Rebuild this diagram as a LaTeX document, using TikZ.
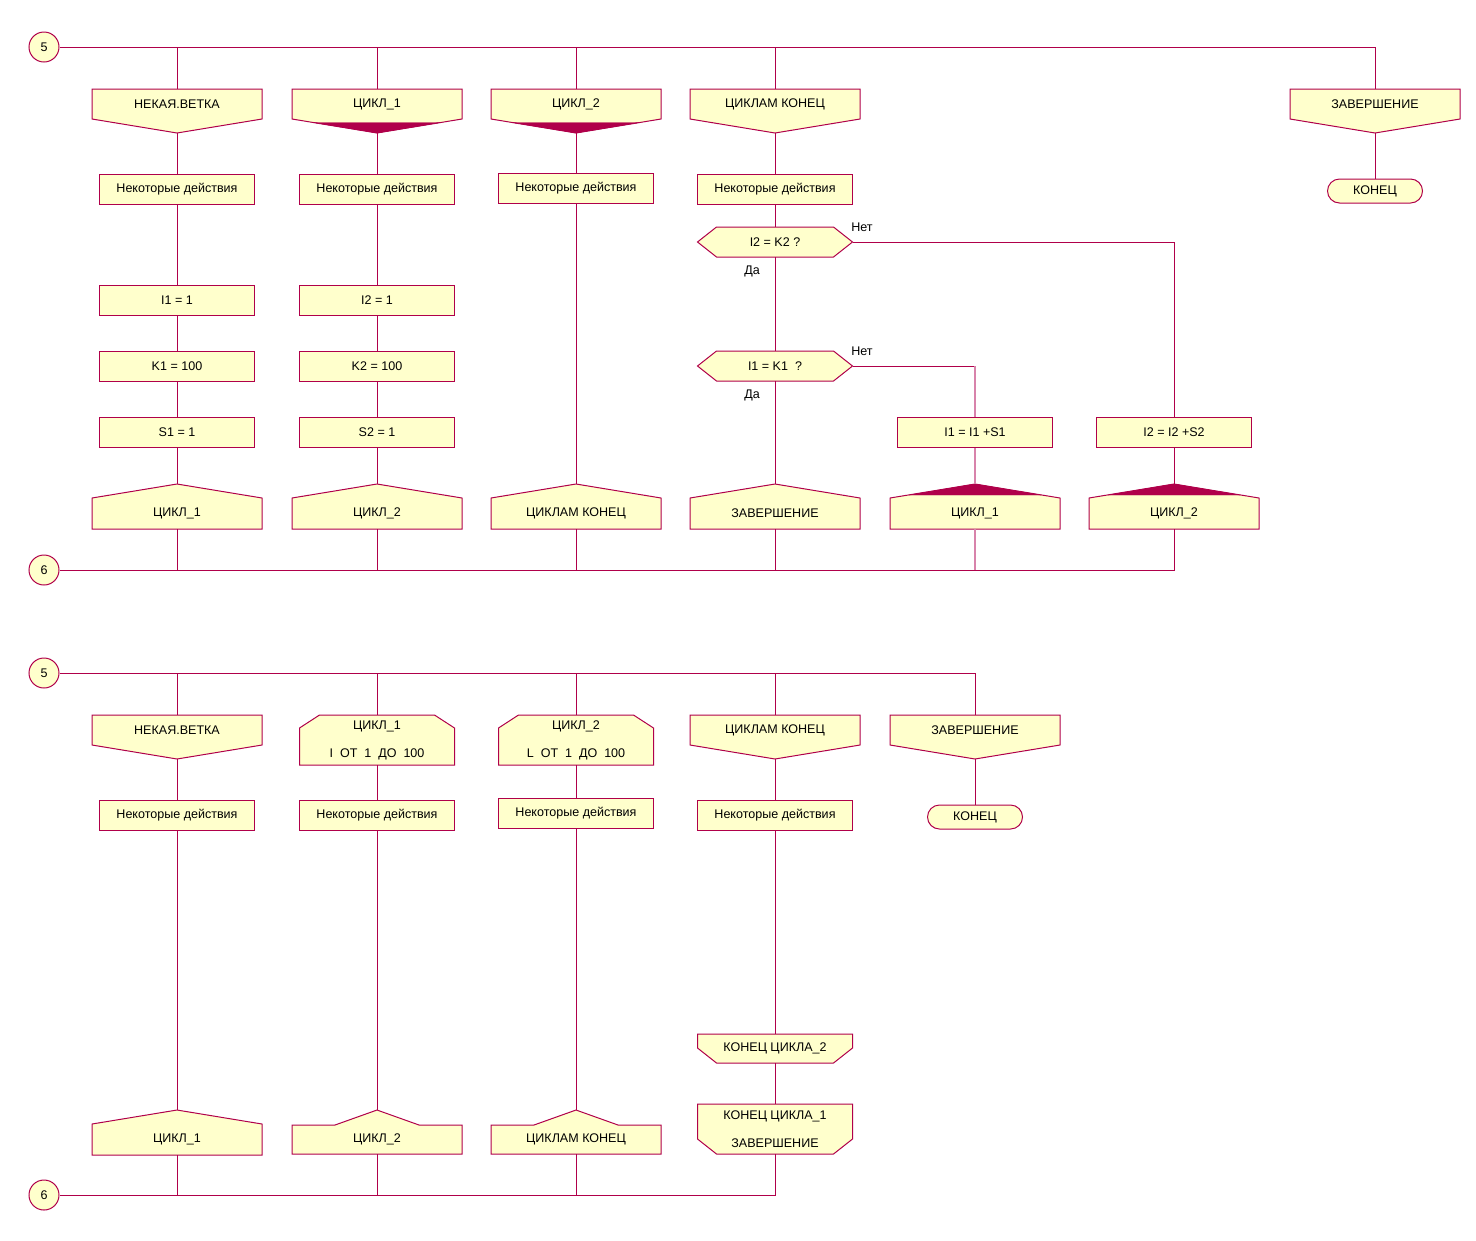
\documentclass[tikz,border=0pt]{standalone}
\usepackage{fontspec}
\setmainfont{Liberation Sans}
\usetikzlibrary{calc}
\definecolor{lnc}{HTML}{B0004A}
\definecolor{flc}{HTML}{FFFFCC}
\definecolor{lnl}{HTML}{D883AB}
\tikzset{
  shp/.style={draw=lnc, fill=flc, line width=0.75pt},
  wire/.style={draw=lnc, line width=0.75pt},
  wirel/.style={draw=lnl, line width=1.1pt},
  tri/.style={fill=lnc, draw=lnc, line width=0.3pt},
  txt/.style={inner sep=0pt, font=\fontsize{9.4}{11}\selectfont, text=black},
  part/.style={txt, minimum width=127.5pt, minimum height=22.5pt},
  box/.style={shp, txt, minimum width=116.25pt, minimum height=22.5pt},
  lbl/.style={txt},
  term/.style={shp, txt, rounded corners=9pt, minimum width=71.25pt, minimum height=18pt},
  conn/.style={shp, txt, circle, minimum size=22.5pt},
  two/.style={txt, align=center, minimum width=116.25pt, font=\fontsize{9.4}{21}\selectfont},
}
% V-bottom header (branch name)
\newcommand\VHead[4]{%
  \path[shp] (#2-85,#3) -- (#2+85,#3) -- (#2+85,#3+30) -- (#2,#3+44) -- (#2-85,#3+30) -- cycle;
  \coordinate (#1-in) at (#2,#3);
  \coordinate (#1-out) at (#2,#3+44);
  \node[part] (#1) at (#2,#3+15) {#4};
}
\newcommand\VHeadF[4]{%
  \VHead{#1}{#2}{#3}{#4}%
  \path[tri] (#2-64,#3+33.5) -- (#2,#3+44) -- (#2+64,#3+33.5) -- cycle;
}
% roof shape (branch address), wide
\newcommand\Roof[4]{%
  \path[shp] (#2,#3) -- (#2+85,#3+14) -- (#2+85,#3+45) -- (#2-85,#3+45) -- (#2-85,#3+14) -- cycle;
  \coordinate (#1-in) at (#2,#3);
  \node[part, minimum height=23.25pt] (#1) at (#2,#3+29.5) {#4};
}
\newcommand\RoofF[4]{%
  \Roof{#1}{#2}{#3}{#4}%
  \path[tri] (#2-66,#3+11) -- (#2,#3) -- (#2+66,#3+11) -- cycle;
}
% roof shape, narrow peak
\newcommand\RoofN[4]{%
  \path[shp] (#2-85,#3+15) -- (#2-42,#3+15) -- (#2,#3) -- (#2+42,#3+15) -- (#2+85,#3+15)
     -- (#2+85,#3+44) -- (#2-85,#3+44) -- cycle;
  \coordinate (#1-in) at (#2,#3);
  \node[part, minimum height=21.75pt] (#1) at (#2,#3+29.5) {#4};
}
% loop start (chamfered top corners)
\newcommand\LoopS[4]{%
  \path[shp] (#2-77.5,#3+13) -- (#2-57.5,#3) -- (#2+57.5,#3) -- (#2+77.5,#3+13)
     -- (#2+77.5,#3+50) -- (#2-77.5,#3+50) -- cycle;
  \node[two, minimum height=37.5pt] (#1) at (#2,#3+25) {#4};
}
% loop end (chamfered bottom corners)
\newcommand\LoopE[5]{%
  \path[shp] (#2-77.5,#3) -- (#2+77.5,#3) -- (#2+77.5,#3+#4-15) -- (#2+58.5,#3+#4)
     -- (#2-58.5,#3+#4) -- (#2-77.5,#3+#4-15) -- cycle;
  \node[two, minimum height=#4*0.75pt] (#1) at (#2,#3+#4/2) {#5};
}
% decision hexagon
\newcommand\Hexa[4]{%
  \path[shp] (#2-77.5,#3) -- (#2-58.5,#3-15) -- (#2+58.5,#3-15) -- (#2+77.5,#3)
     -- (#2+58.5,#3+15) -- (#2-58.5,#3+15) -- cycle;
  \node[txt, minimum width=116.25pt, minimum height=22.5pt] (#1) at (#2,#3) {#4};
}
\begin{document}
\begin{tikzpicture}[x=0.75pt, y=-0.75pt]
\useasboundingbox (0,0) rectangle (1476,1240);

% ================= upper diagram =================
\node[conn] (c5) at (44,47) {5};
\node[conn] (c6) at (44,570) {6};

\VHead{h1}{177}{89}{НЕКАЯ.ВЕТКА}
\VHeadF{h2}{377}{89}{ЦИКЛ\_1}
\VHeadF{h3}{576}{89}{ЦИКЛ\_2}
\VHead{h4}{775}{89}{ЦИКЛАМ КОНЕЦ}
\VHead{hz}{1375}{89}{ЗАВЕРШЕНИЕ}
\node[term] (tz) at (1375,191) {КОНЕЦ};

\node[box] (a1) at (177,189) {Некоторые действия};
\node[box] (a2) at (377,189) {Некоторые действия};
\node[box] (a3) at (576,188) {Некоторые действия};
\node[box] (a4) at (775,189) {Некоторые действия};

\node[box] (i1) at (177,300) {I1 = 1};
\node[box] (k1) at (177,366) {K1 = 100};
\node[box] (s1) at (177,432.5) {S1 = 1};
\node[box] (i2) at (377,300) {I2 = 1};
\node[box] (k2) at (377,366) {K2 = 100};
\node[box] (s2) at (377,432.5) {S2 = 1};

\Hexa{d2}{775}{242}{I2 = K2 ?}
\Hexa{d1}{775}{366}{I1 = K1 \ ?}
\node[lbl] (n2) at (862,227) {Нет};
\node[lbl] (y2) at (752,271) {Да};
\node[lbl] (n1) at (862,351) {Нет};
\node[lbl] (y1) at (752,395) {Да};

\node[box] (p1) at (975,432.5) {I1 = I1 +S1};
\node[box] (p2) at (1174,432.5) {I2 = I2 +S2};

\Roof{e1}{177}{484}{ЦИКЛ\_1}
\Roof{e2}{377}{484}{ЦИКЛ\_2}
\Roof{e3}{576}{484}{ЦИКЛАМ КОНЕЦ}
\Roof{e4}{775}{484}{ЗАВЕРШЕНИЕ}
\RoofF{e5}{975}{484}{ЦИКЛ\_1}
\RoofF{e6}{1174}{484}{ЦИКЛ\_2}

\draw[wire] (c5.east) -- (c5.east -| hz-in) -- (hz-in);
\foreach \n in {h1,h2,h3,h4} \draw[wire] (\n-in |- c5.east) -- (\n-in);
\draw[wire] (hz-out) -- (tz.north);
\draw[wire] (h1-out) -- (a1.north) (a1.south) -- (i1.north) (i1.south) -- (k1.north)
  (k1.south) -- (s1.north) (s1.south) -- (e1-in) (e1.south) -- (e1.south |- c6.east);
\draw[wire] (h2-out) -- (a2.north) (a2.south) -- (i2.north) (i2.south) -- (k2.north)
  (k2.south) -- (s2.north) (s2.south) -- (e2-in) (e2.south) -- (e2.south |- c6.east);
\draw[wire] (h3-out) -- (a3.north) (a3.south) -- (e3-in) (e3.south) -- (e3.south |- c6.east);
\draw[wire] (h4-out) -- (a4.north) (a4.south) -- (d2.north) (d2.south) -- (d1.north)
  (d1.south) -- (e4-in) (e4.south) -- (e4.south |- c6.east);
\draw[wire] (d2.east) -| (p2.north);
\draw[wire] (p2.south) -- (e6-in);
\draw[wire] (d1.east) -- (d1.east -| p1.north);
\draw[wirel] (d1.east -| p1.north) -- (p1.north) (p1.south) -- (e5-in) (e5.south) -- (e5.south |- c6.east);
\draw[wire] (c6.east) -| (e6.south);

% ================= lower diagram =================
\node[conn] (c5b) at (44,673) {5};
\node[conn] (c6b) at (44,1195) {6};

\VHead{hb1}{177}{715}{НЕКАЯ.ВЕТКА}
\LoopS{lb2}{377}{715}{ЦИКЛ\_1\\I\ \ ОТ\ \ 1\ \ ДО\ \ 100}
\LoopS{lb3}{576}{715}{ЦИКЛ\_2\\L\ \ ОТ\ \ 1\ \ ДО\ \ 100}
\VHead{hb4}{775}{715}{ЦИКЛАМ КОНЕЦ}
\VHead{hbz}{975}{715}{ЗАВЕРШЕНИЕ}
\node[term] (tzb) at (975,817) {КОНЕЦ};

\node[box] (ab1) at (177,815) {Некоторые действия};
\node[box] (ab2) at (377,815) {Некоторые действия};
\node[box] (ab3) at (576,813) {Некоторые действия};
\node[box] (ab4) at (775,815) {Некоторые действия};

\Roof{eb1}{177}{1110}{ЦИКЛ\_1}
\RoofN{eb2}{377}{1110}{ЦИКЛ\_2}
\RoofN{eb3}{576}{1110}{ЦИКЛАМ КОНЕЦ}
\LoopE{le2}{775}{1034}{29}{КОНЕЦ ЦИКЛА\_2}
\LoopE{le1}{775}{1104}{50}{КОНЕЦ ЦИКЛА\_1\\ЗАВЕРШЕНИЕ}

\draw[wire] (c5b.east) -- (c5b.east -| hbz-in) -- (hbz-in);
\foreach \n in {hb1,hb4} \draw[wire] (\n-in |- c5b.east) -- (\n-in);
\foreach \n in {lb2,lb3} \draw[wire] (\n.north |- c5b.east) -- (\n.north);
\draw[wire] (hbz-out) -- (tzb.north);
\draw[wire] (hb1-out) -- (ab1.north) (ab1.south) -- (eb1-in) (eb1.south) -- (eb1.south |- c6b.east);
\draw[wire] (lb2.south) -- (ab2.north) (ab2.south) -- (eb2-in) (eb2.south) -- (eb2.south |- c6b.east);
\draw[wire] (lb3.south) -- (ab3.north) (ab3.south) -- (eb3-in) (eb3.south) -- (eb3.south |- c6b.east);
\draw[wire] (hb4-out) -- (ab4.north) (ab4.south) -- (le2.north) (le2.south) -- (le1.north);
\draw[wire] (le1.south) |- (c6b.east);
\end{tikzpicture}
\end{document}
